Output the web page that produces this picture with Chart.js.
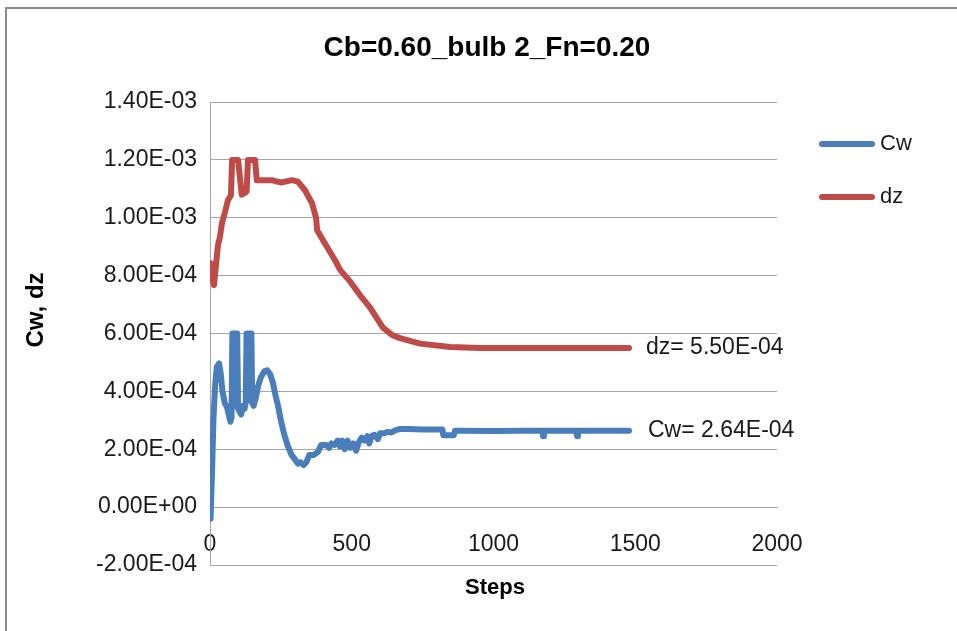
<!DOCTYPE html>
<html>
<head>
<meta charset="utf-8">
<script src="https://cdn.jsdelivr.net/npm/chart.js@4/dist/chart.umd.min.js"></script>
<style>
  html, body { margin: 0; padding: 0; background: #fff; }
  #wrap { width: 957px; height: 631px; position: relative; }
</style>
</head>
<body>
<div id="wrap"><canvas id="c" width="957" height="631"></canvas></div>
<script>
// ---- Data ----
const chartTitle = "Cb=0.60_bulb 2_Fn=0.20";
const xTitle = "Steps";
const yTitle = "Cw, dz";
const seriesNames = ["Cw", "dz"];
const annotationTexts = ["Cw= 2.64E-04", "dz= 5.50E-04"];

const cwSteps = [2, 8, 12, 18, 24, 32, 38, 44, 52, 60, 66, 72, 76, 79, 84, 86, 89, 96, 99, 104, 110, 116, 122, 126, 129, 134, 136, 139, 146, 149, 154, 162, 170, 180, 192, 202, 212, 222, 230, 240, 250, 262, 275, 288, 300, 310, 320, 330, 340, 350, 365, 380, 392, 410, 420, 428, 440, 450, 458, 466, 475, 485, 495, 505, 515, 525, 535, 545, 555, 562, 570, 580, 592, 600, 615, 625, 640, 655, 670, 700, 750, 820, 823, 860, 864, 900, 1000, 1100, 1172, 1175, 1178, 1292, 1295, 1298, 1400, 1478];
const cwValues = [-0.40e-4, 1.5e-4, 3.0e-4, 4.2e-4, 4.84e-4, 4.97e-4, 4.6e-4, 4.0e-4, 3.6e-4, 3.45e-4, 3.2e-4, 2.95e-4, 3.1e-4, 6.0e-4, 6.0e-4, 3.5e-4, 6.0e-4, 6.0e-4, 3.4e-4, 3.3e-4, 3.2e-4, 3.5e-4, 3.4e-4, 3.6e-4, 6.0e-4, 6.0e-4, 3.7e-4, 6.0e-4, 6.0e-4, 3.6e-4, 3.5e-4, 3.8e-4, 4.2e-4, 4.5e-4, 4.7e-4, 4.73e-4, 4.6e-4, 4.3e-4, 3.9e-4, 3.5e-4, 3.0e-4, 2.5e-4, 2.1e-4, 1.8e-4, 1.65e-4, 1.5e-4, 1.55e-4, 1.45e-4, 1.55e-4, 1.8e-4, 1.8e-4, 1.9e-4, 2.15e-4, 2.15e-4, 2.05e-4, 2.2e-4, 2.15e-4, 2.3e-4, 2.1e-4, 2.3e-4, 2.0e-4, 2.3e-4, 2.05e-4, 2.2e-4, 1.95e-4, 2.25e-4, 2.4e-4, 2.3e-4, 2.45e-4, 2.2e-4, 2.45e-4, 2.5e-4, 2.35e-4, 2.55e-4, 2.55e-4, 2.6e-4, 2.58e-4, 2.66e-4, 2.7e-4, 2.7e-4, 2.68e-4, 2.68e-4, 2.48e-4, 2.48e-4, 2.64e-4, 2.64e-4, 2.63e-4, 2.64e-4, 2.64e-4, 2.45e-4, 2.64e-4, 2.64e-4, 2.45e-4, 2.64e-4, 2.64e-4, 2.64e-4];

const dzSteps = [2, 7, 14, 21, 28, 35, 42, 53, 63, 74, 78, 99, 112, 129, 134, 159, 165, 219, 236, 254, 289, 310, 335, 360, 374, 378, 406, 441, 459, 494, 529, 564, 610, 642, 670, 741, 847, 952, 1478];
const dzValues = [8.43e-4, 8.0e-4, 7.67e-4, 8.36e-4, 9.05e-4, 9.33e-4, 9.81e-4, 10.2e-4, 10.6e-4, 10.78e-4, 12.0e-4, 12.0e-4, 10.8e-4, 10.9e-4, 12.0e-4, 12.0e-4, 11.3e-4, 11.3e-4, 11.25e-4, 11.22e-4, 11.3e-4, 11.25e-4, 10.95e-4, 10.5e-4, 10.0e-4, 9.57e-4, 9.1e-4, 8.53e-4, 8.2e-4, 7.8e-4, 7.33e-4, 6.9e-4, 6.2e-4, 5.95e-4, 5.84e-4, 5.65e-4, 5.53e-4, 5.5e-4, 5.5e-4];

const xMin = 0, xMax = 2000, xStep = 500;
const yMin = -2.0e-4, yMax = 1.4e-3, yStep = 2.0e-4;

// ---- Styles ----
const CW_COLOR = "#4A7EBB";
const DZ_COLOR = "#BE4B48";
const GRID = "#A6A6A6";
const FONT = "'Liberation Sans', Arial, sans-serif";

function fmtExp(v) {
  if (Math.abs(v) < 1e-12) v = 0;
  const s = v.toExponential(2);
  const m = s.match(/^(-?[\d.]+)e([+-])(\d+)$/);
  const e = m[3].length < 2 ? "0" + m[3] : m[3];
  return m[1] + "E" + m[2] + e;
}

const toPts = (xs, ys) => xs.map((x, i) => ({ x: x, y: ys[i] }));

const decor = {
  id: "decor",
  afterDraw(chart) {
    const ctx = chart.ctx;
    const ys = chart.scales.y;
    ctx.save();
    // outer frame
    ctx.strokeStyle = "#8C8C8C";
    ctx.lineWidth = 2;
    ctx.strokeRect(6, 8, 1100, 800);
    // title
    ctx.fillStyle = "#000";
    ctx.textAlign = "center";
    ctx.textBaseline = "middle";
    ctx.font = "bold 28px " + FONT;
    ctx.fillText(chartTitle, 487, 48);
    // x title
    ctx.font = "bold 22px " + FONT;
    ctx.fillText(xTitle, 495, 588);
    // y title
    ctx.save();
    ctx.translate(36, 310);
    ctx.rotate(-Math.PI / 2);
    ctx.font = "bold 24px " + FONT;
    ctx.fillText(yTitle, 0, 0);
    ctx.restore();
    // legend
    const legend = [[seriesNames[0], CW_COLOR, 144], [seriesNames[1], DZ_COLOR, 197]];
    ctx.font = "22px " + FONT;
    ctx.textAlign = "left";
    legend.forEach(([name, col, y]) => {
      ctx.strokeStyle = col;
      ctx.lineWidth = 6;
      ctx.lineCap = "round";
      ctx.beginPath();
      ctx.moveTo(822, y);
      ctx.lineTo(872, y);
      ctx.stroke();
      ctx.fillStyle = "#1a1a1a";
      ctx.fillText(name, 880, y);
    });
    // value annotations next to the line ends
    ctx.fillStyle = "#1a1a1a";
    ctx.font = "23px " + FONT;
    ctx.fillText(annotationTexts[1], 646, ys.getPixelForValue(dzValues[dzValues.length - 1]));
    ctx.fillText(annotationTexts[0], 648, ys.getPixelForValue(cwValues[cwValues.length - 1]));
    ctx.restore();
  }
};

new Chart(document.getElementById("c"), {
  type: "line",
  data: {
    datasets: [
      { label: seriesNames[0], data: toPts(cwSteps, cwValues), borderColor: CW_COLOR, borderWidth: 6,
        pointRadius: 0, tension: 0, borderJoinStyle: "round", borderCapStyle: "round", fill: false },
      { label: seriesNames[1], data: toPts(dzSteps, dzValues), borderColor: DZ_COLOR, borderWidth: 6,
        pointRadius: 0, tension: 0, borderJoinStyle: "round", borderCapStyle: "round", fill: false }
    ]
  },
  options: {
    responsive: false,
    animation: false,
    layout: { padding: { left: 0, right: 180, top: 102, bottom: 66 } },
    plugins: { legend: { display: false }, title: { display: false }, tooltip: { enabled: false } },
    scales: {
      x: {
        type: "linear",
        position: { y: 0 },
        min: xMin, max: xMax,
        ticks: { stepSize: xStep, padding: 24, color: "#1a1a1a", font: { family: FONT, size: 23 }, maxRotation: 0,
                 callback: (v) => String(v) },
        grid: { display: false, drawTicks: false },
        border: { display: true, color: GRID, width: 1 }
      },
      y: {
        type: "linear",
        position: "left",
        min: yMin, max: yMax,
        afterFit: (s) => { s.width = 210; },
        ticks: { stepSize: yStep, padding: 13, color: "#1a1a1a", font: { family: FONT, size: 23 }, callback: (v) => fmtExp(v) },
        grid: { color: GRID, lineWidth: 1, drawTicks: false },
        border: { display: true, color: GRID, width: 1 }
      }
    }
  },
  plugins: [decor]
});
</script>
</body>
</html>
